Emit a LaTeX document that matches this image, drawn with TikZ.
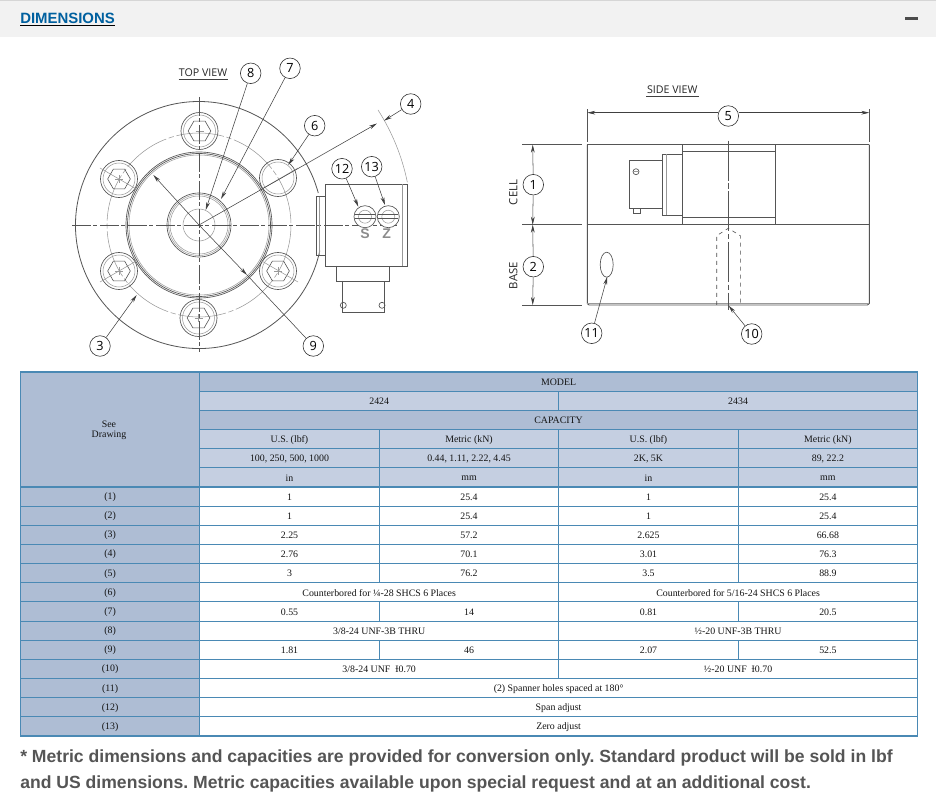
\documentclass[tikz,border=0pt]{standalone}
\usepackage{fontspec}
\setmainfont{Liberation Serif}
\newfontfamily\lblfont{Open Sans}
\newfontfamily\ariafont{Liberation Sans}
\usetikzlibrary{arrows.meta,shapes.geometric}
\definecolor{hdark}{HTML}{AEBDD4}
\definecolor{hlight}{HTML}{C5CFE1}
\definecolor{tborder}{HTML}{4A89B4}
\definecolor{linec}{HTML}{555555}
\definecolor{paleline}{HTML}{999999}
\definecolor{linkblue}{HTML}{00609F}
\definecolor{foot}{HTML}{555555}
\tikzset{
  x=0.75pt,y=-0.75pt,
  cellbox/.style={fill=#1,draw=tborder,line width=0.85pt},
  celltext/.style={font=\fontsize{7.4}{7.8}\selectfont,text=black!92,inner sep=0pt,align=center},
  callout/.style={circle,draw=black!80,fill=white,line width=0.45pt,minimum size=15.4pt,inner sep=0pt,font=\lblfont\fontsize{9.5}{10}\selectfont},
  part/.style={draw=linec,line width=0.5pt},
  thin part/.style={draw=paleline,line width=0.4pt},
  centre line/.style={draw=linec,line width=0.45pt,dash pattern=on 14pt off 2pt on 3pt off 2pt},
  bolt circle/.style={draw=paleline,line width=0.4pt,dash pattern=on 36pt off 2pt on 4pt off 2pt},
  leader/.style={draw=black!75,line width=0.4pt,-{Stealth[length=6pt,width=2.8pt]}},
  plain leader/.style={draw=black!75,line width=0.4pt},
  viewtitle/.style={font=\lblfont\fontsize{8}{10}\selectfont,text=black!85,inner sep=0pt},
  viewlabel/.style={font=\lblfont\fontsize{8.5}{10}\selectfont,text=black!85,inner sep=0pt,rotate=90},
  footnote line/.style={anchor=base west,inner sep=0pt,font=\ariafont\bfseries\fontsize{13.19}{15}\selectfont,text=foot},
  screw letter/.style={inner sep=0pt,font=\ariafont\bfseries\fontsize{10.5}{12}\selectfont,text=black!45}
}
\newcommand\tcell[7]{%
  \pgfmathsetmacro\rya{372+19.16*#4}%
  \pgfmathsetmacro\ryb{372+19.16*#5}%
  \pgfmathsetmacro\rxm{(#2+#3)/2}%
  \pgfmathsetmacro\rym{(\rya+\ryb)/2+0.6}%
  \path[cellbox=#6] (#2,\rya) rectangle (#3,\ryb);
  \node[celltext] (#1) at (\rxm,\rym) {#7};
}
\newcommand\boltcircles[2]{%
  \draw[part] (#1,#2) circle[radius=18.5];
  \draw[thin part] (#1,#2) circle[radius=16];
}
\newcommand\bolthex[3]{%
  \boltcircles{#1}{#2}
  \node[regular polygon,regular polygon sides=6,draw=linec,line width=0.45pt,minimum size=17pt,inner sep=0pt] (#3) at (#1,#2) {};
  \draw[thin part] (#1-4,#2) -- (#1+4,#2) (#1,#2-4) -- (#1,#2+4);
}
\begin{document}
\begin{tikzpicture}
\frenchspacing
\useasboundingbox (0,0) rectangle (936,805);
\fill[white] (0,0) rectangle (936,805);
% header bar
\fill[black!5] (0,0) rectangle (936,37);
\fill[black!16] (0,0) rectangle (936,1.3);
\node[anchor=base west,inner sep=0pt,font=\ariafont\bfseries\fontsize{11.2}{13}\selectfont,text=linkblue] (dimtitle) at (20,23.2) {DIMENSIONS};
\draw[black,line width=0.8pt] (20,25.3) -- (115,25.3);
\fill[black!70] (905,17) rectangle (918,20);

% TOP VIEW
\node[viewtitle] (topview) at (203,72.7) {TOP VIEW};
\draw[black!75,line width=0.5pt] (178.5,79) -- (227.5,79);
\draw[part,line width=0.6pt] (319.8,250.7) arc[start angle=12,end angle=345,radius=123.5];
\draw[bolt circle] (199,225) circle[radius=92];
\path[part,fill=white] (199,225) circle[radius=73];
\draw[part] (199,225) circle[radius=71.5];
\draw[thin part] (199,225) circle[radius=70];
\draw[part] (199,225) circle[radius=32];
\draw[thin part] (199,225) circle[radius=30.5];
\draw[thin part] (199,225) circle[radius=29];
\draw[thin part] (199,225) circle[radius=16];
\bolthex{199.5}{131}{bolta}
\bolthex{119}{179}{boltb}
\boltcircles{278}{178}
\bolthex{119}{271}{boltc}
\bolthex{278}{271}{boltd}
\bolthex{198.5}{318}{bolte}
\draw[thin part] (100,168) -- (138,190) (298,168) -- (260,190) (100,282) -- (138,260) (298,282) -- (260,260);
\draw[centre line] (72,225) -- (397,225);
\draw[centre line] (199,97) -- (199,352);
\draw[part] (325.7,184.3) rectangle (407.3,266);
\draw[thin part] (402,184.3) -- (402,266);
\draw[part] (325.7,196.7) -- (316.7,196.7) -- (316.7,255) -- (325.7,255);
\draw[thin part] (319.5,196.7) -- (319.5,255);
\draw[part] (336,266) -- (336,281) -- (389,281) -- (389,266);
\draw[part] (342,281) -- (342,312) -- (384,312) -- (384,281);
\draw[part] (343.3,305.3) circle[radius=3];
\draw[part] (382,305.3) circle[radius=3];
\path[part,fill=white] (365,216.7) circle[radius=11];
\draw[thin part] (365,216.7) circle[radius=6.5];
\draw[part] (355,214.8) -- (375,214.8) (355,218.6) -- (375,218.6);
\path[part,fill=white] (388.3,216.7) circle[radius=11];
\draw[thin part] (388.3,216.7) circle[radius=6.5];
\draw[part] (378.3,214.8) -- (398.3,214.8) (378.3,218.6) -- (398.3,218.6);
\node[screw letter] (slabel) at (365,233.5) {S};
\node[screw letter] (zlabel) at (386.7,233.5) {Z};
\draw[thin part] (378,110) arc[start angle=-32.7,end angle=-11.5,radius=212];

\node[callout] (c8) at (250.7,73.3) {8};
\node[callout] (c7) at (290,68.3) {7};
\node[callout] (c4) at (410.7,104) {4};
\node[callout] (c6) at (314.7,125.7) {6};
\node[callout] (c12) at (342,168.7) {12};
\node[callout] (c13) at (371.7,166.7) {13};
\node[callout] (c3) at (100,346) {3};
\node[callout] (c9) at (313.3,346) {9};
\coordinate (centre) at (199,225);
\coordinate (t8) at (205.7,210);
\coordinate (t7) at (221,199);
\coordinate (t4a) at (377,123.5);
\coordinate (t4b) at (384,120.7);
\coordinate (t6) at (288.3,165);
\coordinate (t12) at (358.3,206.7);
\coordinate (t13) at (385,205);
\coordinate (t3) at (136.7,295);
\coordinate (t9) at (247,275);
\coordinate (t9b) at (153.3,175);
\draw[leader] (c8) -- (t8);
\draw[leader] (c7) -- (t7);
\draw[leader] (centre) -- (t4a);
\draw[leader] (c4) -- (t4b);
\draw[leader] (c6) -- (t6);
\draw[leader] (c12) -- (t12);
\draw[leader] (c13) -- (t13);
\draw[leader] (c3) -- (t3);
\draw[plain leader] (c9) -- (t9);
\draw[leader] (centre) -- (t9);
\draw[leader] (centre) -- (t9b);

% SIDE VIEW
\node[viewtitle] (sideview) at (672.3,90) {SIDE VIEW};
\draw[black!75,line width=0.5pt] (646,96) -- (698.5,96);
\draw[part] (587.3,144.7) -- (869.3,144.7);
\draw[part] (587.3,224.7) -- (869.3,224.7);
\draw[part,line width=0.7pt] (587.3,144.7) -- (587.3,303.5) -- (589,305) -- (867.5,305) -- (869.3,303.5) -- (869.3,144.7);
\draw[thin part] (587.3,302.8) -- (869.3,302.8);
\draw[part] (587.3,109.3) -- (587.3,142);
\draw[part] (869.3,109.3) -- (869.3,142);
\draw[part] (522.3,144.7) -- (582.3,144.7);
\draw[part] (522.3,224.7) -- (582.3,224.7);
\draw[part] (522.3,305) -- (582.3,305);
\draw[part,line width=0.7pt,fill=white] (682.3,144.7) rectangle (775,224.7);
\draw[part] (682.3,151.7) -- (775,151.7);
\draw[part] (682.3,217.3) -- (775,217.3);
\draw[part] (662.7,154.3) rectangle (682.3,215);
\draw[thin part] (666,154.3) -- (666,215);
\draw[part] (629,160.7) rectangle (662.7,208.3);
\draw[part] (633.7,208.3) rectangle (640,213.3);
\draw[part] (636,171.7) circle[radius=3];
\draw[thin part] (633,171.7) -- (639,171.7);
\draw[part,line width=0.55pt,dash pattern=on 30pt off 2pt on 4pt off 2pt] (728.3,140.7) -- (728.3,310);
\draw[black!70,line width=0.45pt,dashed] (716.7,305) -- (716.7,235.7) -- (728.3,228.3) -- (740.3,235.7) -- (740.3,305);
\draw[part] (606.7,264.7) ellipse[x radius=6.5,y radius=12.5];

\node[callout] (c5) at (728.3,116) {5};
\node[callout] (c1) at (533.3,184.7) {1};
\node[callout] (c2) at (533.3,266.7) {2};
\node[callout] (c11) at (591.7,333.3) {11};
\node[callout] (c10) at (751.7,334) {10};
\coordinate (d5l) at (587.3,112.7);
\coordinate (d5r) at (869.3,112.7);
\coordinate (d1t) at (532.7,144.7);
\coordinate (d1b) at (532.7,224.7);
\coordinate (d2t) at (532.7,224.7);
\coordinate (d2b) at (532.7,305);
\coordinate (t11) at (607.3,276.7);
\coordinate (t10) at (728.7,305.7);
\draw[leader] (c5.west |- d5l) -- (d5l);
\draw[leader] (c5.east |- d5r) -- (d5r);
\draw[leader] (c1) -- (d1t);
\draw[leader] (c1) -- (d1b);
\draw[leader] (c2) -- (d2t);
\draw[leader] (c2) -- (d2b);
\draw[leader] (c11) -- (t11);
\draw[leader] (c10) -- (t10);
\node[viewlabel] (celllabel) at (513.3,192.5) {CELL};
\node[viewlabel] (baselabel) at (513.3,275.7) {BASE};

% TABLE
\tcell{see}{20.5}{199.7}{0}{6}{hdark}{}
\node[celltext,align=center] (seedraw) at (109,430.5) {See\\Drawing};
\tcell{model}{199.7}{917.5}{0}{1}{hdark}{MODEL}
\tcell{m2424}{199.7}{558.7}{1}{2}{hlight}{2424}
\tcell{m2434}{558.7}{917.5}{1}{2}{hlight}{2434}
\tcell{capacity}{199.7}{917.5}{2}{3}{hdark}{CAPACITY}
\tcell{ha}{199.7}{379.3}{3}{4}{hlight}{U.S. (lbf)}
\tcell{hb}{379.3}{558.7}{3}{4}{hlight}{Metric (kN)}
\tcell{hc}{558.7}{738.3}{3}{4}{hlight}{U.S. (lbf)}
\tcell{hd}{738.3}{917.5}{3}{4}{hlight}{Metric (kN)}
\tcell{ca}{199.7}{379.3}{4}{5}{hlight}{100, 250, 500, 1000}
\tcell{cb}{379.3}{558.7}{4}{5}{hlight}{0.44, 1.11, 2.22, 4.45}
\tcell{cc}{558.7}{738.3}{4}{5}{hlight}{2K, 5K}
\tcell{cd}{738.3}{917.5}{4}{5}{hlight}{89, 22.2}
\tcell{ua}{199.7}{379.3}{5}{6}{hlight}{in}
\tcell{ub}{379.3}{558.7}{5}{6}{hlight}{mm}
\tcell{uc}{558.7}{738.3}{5}{6}{hlight}{in}
\tcell{ud}{738.3}{917.5}{5}{6}{hlight}{mm}
% four-value rows
\newcommand\rowfour[6]{%
  \pgfmathtruncatemacro\rnext{#1+1}%
  \tcell{k#2}{20.5}{199.7}{#1}{\rnext}{hdark}{(#2)}
  \tcell{a#2}{199.7}{379.3}{#1}{\rnext}{white}{#3}
  \tcell{b#2}{379.3}{558.7}{#1}{\rnext}{white}{#4}
  \tcell{c#2}{558.7}{738.3}{#1}{\rnext}{white}{#5}
  \tcell{d#2}{738.3}{917.5}{#1}{\rnext}{white}{#6}
}
\newcommand\rowtwo[4]{%
  \pgfmathtruncatemacro\rnext{#1+1}%
  \tcell{k#2}{20.5}{199.7}{#1}{\rnext}{hdark}{(#2)}
  \tcell{a#2}{199.7}{558.7}{#1}{\rnext}{white}{#3}
  \tcell{c#2}{558.7}{917.5}{#1}{\rnext}{white}{#4}
}
\newcommand\rowone[3]{%
  \pgfmathtruncatemacro\rnext{#1+1}%
  \tcell{k#2}{20.5}{199.7}{#1}{\rnext}{hdark}{(#2)}
  \tcell{a#2}{199.7}{917.5}{#1}{\rnext}{white}{#3}
}
\rowfour{6}{1}{1}{25.4}{1}{25.4}
\rowfour{7}{2}{1}{25.4}{1}{25.4}
\rowfour{8}{3}{2.25}{57.2}{2.625}{66.68}
\rowfour{9}{4}{2.76}{70.1}{3.01}{76.3}
\rowfour{10}{5}{3}{76.2}{3.5}{88.9}
\rowtwo{11}{6}{Counterbored for ¼-28 SHCS 6 Places}{Counterbored for 5/16-24 SHCS 6 Places}
\rowfour{12}{7}{0.55}{14}{0.81}{20.5}
\rowtwo{13}{8}{3/8-24 UNF-3B THRU}{½-20 UNF-3B THRU}
\rowfour{14}{9}{1.81}{46}{2.07}{52.5}
\rowtwo{15}{10}{3/8-24 UNF\ \ Ɨ0.70}{½-20 UNF\ \ Ɨ0.70}
\rowone{16}{11}{(2) Spanner holes spaced at 180°}
\rowone{17}{12}{Span adjust}
\rowone{18}{13}{Zero adjust}

% FOOTNOTE
\node[footnote line] (fa) at (20,762.5) {* Metric dimensions and capacities are provided for conversion only. Standard product will be sold in lbf};
\node[footnote line] (fb) at (20,788.8) {and US dimensions. Metric capacities available upon special request and at an additional cost.};
\end{tikzpicture}
\end{document}
